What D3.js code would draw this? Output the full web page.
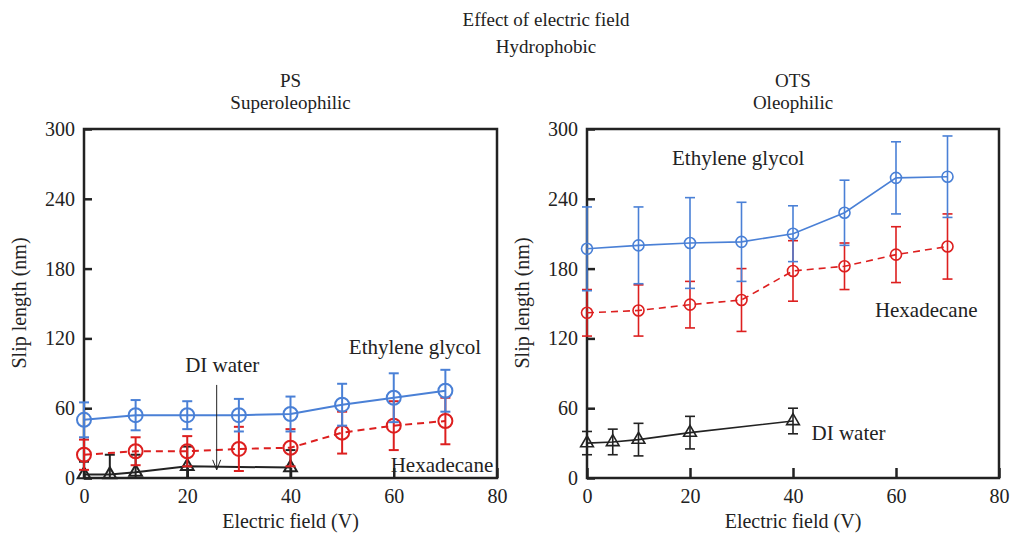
<!DOCTYPE html>
<html>
<head>
<meta charset="utf-8">
<script src="https://cdn.jsdelivr.net/npm/d3@7"></script>
<style>
  body { margin: 0; background: #fff; }
  svg text { font-family: "Liberation Serif", "Times New Roman", Times, serif !important; fill: #222; }
</style>
</head>
<body>
<svg id="chart" width="1013" height="538" font-family="Liberation Serif, Times New Roman, serif"></svg>
<script>
// data
var voltage = [0, 10, 20, 30, 40, 50, 60, 70];
var waterVoltage = [0, 5, 10, 20, 40];
var xTicks = [0, 20, 40, 60, 80];
var yTicks = [0, 60, 120, 180, 240, 300];

// PS / Superoleophilic
var psGlycol = [50, 54, 54, 54, 55, 63, 69, 75];
var psGlycolErr = [15, 13, 12, 14, 15, 18, 21, 18];
var psHexadecane = [20, 23, 23, 25, 26, 39, 45, 49];
var psHexadecaneErr = [13, 12, 13, 19, 16, 18, 21, 20];
var psWater = [3, 3, 5, 10, 9];
var psWaterErr = [11, 17, 15, 17, 15];

// OTS / Oleophilic
var otsGlycol = [197, 200, 202, 203, 210, 228, 258, 259];
var otsGlycolErr = [36, 33, 39, 34, 24, 28, 31, 35];
var otsHexadecane = [142, 144, 149, 153, 178, 182, 192, 199];
var otsHexadecaneErr = [20, 22, 20, 27, 26, 20, 24, 28];
var otsWater = [30, 31, 33, 39, 49];
var otsWaterErr = [10, 11, 14, 14, 11];

// label anchors in data units (volts, nm)
var psLabels = [
  {text: "Ethylene glycol", v: 51.3, nm: 107},
  {text: "DI water", v: 19.6, nm: 91},
  {text: "Hexadecane", v: 59.4, nm: 5}
];
var otsLabels = [
  {text: "Ethylene glycol", v: 16.5, nm: 269},
  {text: "Hexadecane", v: 55.9, nm: 138},
  {text: "DI water", v: 43.6, nm: 33}
];
var psArrow = {v: 25.7, from: 80, to: 7};

var blue = "#4a80d6", red = "#dd1f1f", black = "#222";

var svg = d3.select("#chart");

svg.append("text").attr("x", 546).attr("y", 26).attr("text-anchor", "middle")
  .style("font-size", "19px").text("Effect of electric field");
svg.append("text").attr("x", 546).attr("y", 53).attr("text-anchor", "middle")
  .style("font-size", "19px").text("Hydrophobic");

function drawPanel(opts) {
  var x = d3.scaleLinear().domain([0, 80]).range([opts.left, opts.right]);
  var y = d3.scaleLinear().domain([0, 300]).range([478, 129]);
  var g = svg.append("g");
  var cx = (opts.left + opts.right) / 2;
  var sw = opts.sw;

  g.append("text").attr("x", cx).attr("y", 87).attr("text-anchor", "middle")
    .style("font-size", "19px").text(opts.name);
  g.append("text").attr("x", cx).attr("y", 109).attr("text-anchor", "middle")
    .style("font-size", "19px").text(opts.sub);

  // axes with inward ticks
  var xa = g.append("g").attr("transform", "translate(0,478)")
    .call(d3.axisBottom(x).tickValues(xTicks).tickSizeInner(-10).tickSizeOuter(0).tickPadding(11));
  var ya = g.append("g").attr("transform", "translate(" + opts.left + ",0)")
    .call(d3.axisLeft(y).tickValues(yTicks).tickSizeInner(-8).tickSizeOuter(0).tickPadding(9));
  [xa, ya].forEach(function(a) {
    a.attr("font-family", null);
    a.select(".domain").remove();
    a.selectAll("line").attr("stroke", black).attr("stroke-width", 2.5);
    a.selectAll("text").style("font-size", "20px").attr("fill", black);
  });

  g.append("text").attr("x", cx).attr("y", 528).attr("text-anchor", "middle")
    .style("font-size", "20px").text("Electric field (V)");
  g.append("text").attr("transform", "translate(" + (opts.left - 58) + ",303) rotate(-90)")
    .attr("text-anchor", "middle").style("font-size", "20px").text("Slip length (nm)");

  g.append("rect").attr("x", opts.left).attr("y", y(300))
    .attr("width", opts.right - opts.left).attr("height", y(0) - y(300))
    .attr("fill", "none").attr("stroke", black).attr("stroke-width", 2.5);

  opts.series.forEach(function(s) {
    var pts = s.xs.map(function(v, i) { return {v: v, m: s.ys[i], e: s.err[i]}; });
    var line = d3.line().x(function(d) { return x(d.v); }).y(function(d) { return y(d.m); });
    g.append("path").datum(pts).attr("d", line).attr("fill", "none")
      .attr("stroke", s.color).attr("stroke-width", sw)
      .attr("stroke-dasharray", s.dash ? "7,5" : null);

    var eb = g.append("g").attr("stroke", s.color).attr("stroke-width", sw);
    pts.forEach(function(d) {
      var top = y(d.m + d.e), bot = y(Math.max(0, d.m - d.e)), px = x(d.v);
      eb.append("line").attr("x1", px).attr("x2", px).attr("y1", top).attr("y2", bot);
      eb.append("line").attr("x1", px - 5).attr("x2", px + 5).attr("y1", top).attr("y2", top);
      if (d.m - d.e > 0)
        eb.append("line").attr("x1", px - 5).attr("x2", px + 5).attr("y1", bot).attr("y2", bot);
    });

    if (s.marker === "circle") {
      g.selectAll(null).data(pts).enter().append("circle")
        .attr("cx", function(d) { return x(d.v); }).attr("cy", function(d) { return y(d.m); })
        .attr("r", opts.r).attr("fill", "none").attr("stroke", s.color).attr("stroke-width", sw);
    } else {
      g.selectAll(null).data(pts).enter().append("path")
        .attr("d", d3.symbol(d3.symbolTriangle, 70))
        .attr("transform", function(d) { return "translate(" + x(d.v) + "," + y(d.m) + ")"; })
        .attr("fill", "none").attr("stroke", s.color).attr("stroke-width", sw);
    }
  });

  opts.labels.forEach(function(l) {
    g.append("text").attr("x", x(l.v)).attr("y", y(l.nm)).style("font-size", "21px").text(l.text);
  });

  if (opts.arrow) {
    var a = opts.arrow, ax = x(a.v);
    g.append("line").attr("x1", ax).attr("x2", ax).attr("y1", y(a.from)).attr("y2", y(a.to))
      .attr("stroke", black).attr("stroke-width", 1);
    g.append("path")
      .attr("d", "M" + (ax - 4) + "," + (y(a.to) - 10) + "L" + ax + "," + y(a.to) + "L" + (ax + 4) + "," + (y(a.to) - 10))
      .attr("fill", "none").attr("stroke", black).attr("stroke-width", 1);
  }
}

drawPanel({
  left: 84, right: 497, r: 7, sw: 2, name: "PS", sub: "Superoleophilic",
  series: [
    {xs: waterVoltage, ys: psWater, err: psWaterErr, color: black, marker: "triangle"},
    {xs: voltage, ys: psHexadecane, err: psHexadecaneErr, color: red, marker: "circle", dash: true},
    {xs: voltage, ys: psGlycol, err: psGlycolErr, color: blue, marker: "circle"}
  ],
  labels: psLabels, arrow: psArrow
});

drawPanel({
  left: 587, right: 999, r: 5.5, sw: 1.6, name: "OTS", sub: "Oleophilic",
  series: [
    {xs: waterVoltage, ys: otsWater, err: otsWaterErr, color: black, marker: "triangle"},
    {xs: voltage, ys: otsHexadecane, err: otsHexadecaneErr, color: red, marker: "circle", dash: true},
    {xs: voltage, ys: otsGlycol, err: otsGlycolErr, color: blue, marker: "circle"}
  ],
  labels: otsLabels
});
</script>
</body>
</html>
